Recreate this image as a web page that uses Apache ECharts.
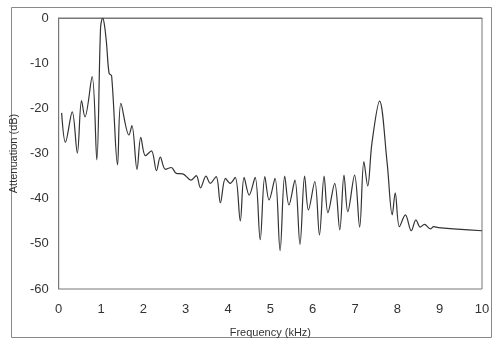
<!DOCTYPE html>
<html>
<head>
<meta charset="utf-8">
<script src="https://cdn.jsdelivr.net/npm/echarts@6/dist/echarts.min.js"></script>
<style>
html,body{margin:0;padding:0;background:#fff;}
#c{width:500px;height:345px;}
</style>
</head>
<body>
<div id="c"></div>
<script>
var freqKHz = [0.07,0.16,0.32,0.44,0.54,0.62,0.79,0.90,0.99,1.04,1.08,1.13,1.19,1.25,1.39,1.47,1.66,1.73,1.85,1.94,2.05,2.19,2.31,2.40,2.52,2.66,2.78,2.93,3.13,3.25,3.35,3.48,3.58,3.72,3.82,3.94,4.05,4.17,4.29,4.38,4.50,4.64,4.76,4.87,4.97,5.11,5.23,5.34,5.44,5.58,5.70,5.81,5.90,6.05,6.16,6.27,6.36,6.52,6.64,6.74,6.83,6.99,7.11,7.21,7.30,7.40,7.58,7.76,7.88,7.95,8.05,8.19,8.33,8.44,8.54,8.64,8.78,8.86,8.97,10.0];
var attenuationDB = [-21.0,-27.5,-20.8,-29.9,-18.3,-21.9,-13.0,-31.4,-2.0,0,-1.5,-5.6,-12.2,-12.8,-32.5,-18.9,-25.9,-23.8,-33.5,-26.4,-30.5,-29.4,-33.8,-30.8,-33.5,-33.1,-34.4,-34.5,-35.9,-34.9,-37.6,-35.0,-36.6,-35.1,-40.9,-35.5,-36.6,-35.3,-44.9,-35.3,-39.2,-35.3,-49.1,-35.1,-40.3,-35.5,-51.5,-35.0,-41.4,-35.9,-50.1,-35.0,-42.5,-36.2,-48.0,-35.0,-43.1,-36.6,-46.9,-34.8,-42.9,-34.8,-46.3,-31.8,-37.2,-27.7,-18.4,-32.2,-43.6,-38.7,-46.2,-43.6,-47.1,-44.7,-46.3,-45.7,-46.7,-46.2,-46.4,-47.1];
var xTicks = [0,1,2,3,4,5,6,7,8,9,10];
var yTicks = [0,-10,-20,-30,-40,-50,-60];

var data = freqKHz.map(function(f, i){ return [f, attenuationDB[i]]; });
var chart = echarts.init(document.getElementById('c'), null, {renderer:'canvas'});
var font = 'Liberation Sans, Arial, sans-serif';
chart.setOption({
  animation:false,
  backgroundColor:'#fff',
  graphic:[{type:'rect', shape:{x:11.5,y:7.5,width:480,height:330}, style:{fill:'none', stroke:'#888', lineWidth:1}}],
  grid:{left:57, right:18, top:18, bottom:56, show:true, borderColor:'#777', borderWidth:1, backgroundColor:'transparent'},
  xAxis:{type:'value', min:xTicks[0], max:xTicks[xTicks.length-1], interval:1,
    name:'Frequency (kHz)', nameLocation:'middle', nameGap:38,
    nameTextStyle:{fontFamily:font, fontSize:11, color:'#333'},
    axisLine:{lineStyle:{color:'#777'}}, axisTick:{show:false}, splitLine:{show:false},
    axisLabel:{fontFamily:font, fontSize:13, color:'#333', margin:14}},
  yAxis:{type:'value', min:yTicks[yTicks.length-1], max:yTicks[0], interval:10,
    name:'Attenuation (dB)', nameLocation:'middle', nameGap:37,
    nameTextStyle:{fontFamily:font, fontSize:11, color:'#333'},
    axisLine:{show:true, lineStyle:{color:'#777'}}, axisTick:{show:false}, splitLine:{show:false},
    axisLabel:{fontFamily:font, fontSize:13, color:'#333', margin:10}},
  series:[{type:'line', data:data, smooth:0.35, symbol:'none',
    lineStyle:{color:'#333', width:1.2}}]
});
</script>
</body>
</html>
